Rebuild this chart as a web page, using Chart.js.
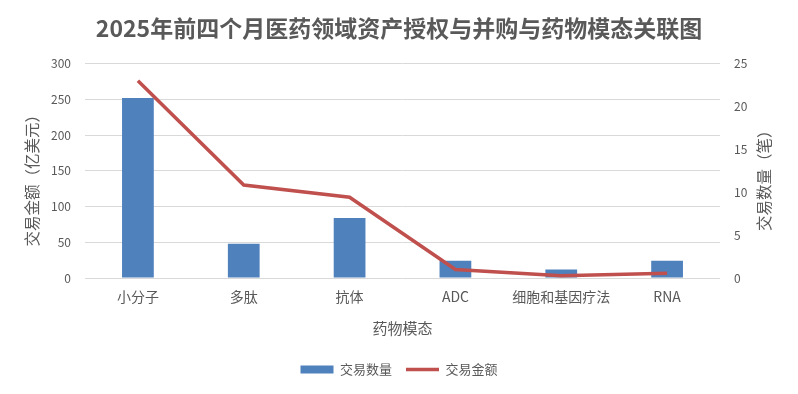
<!DOCTYPE html>
<html>
<head>
<meta charset="utf-8">
<script src="https://cdn.jsdelivr.net/npm/chart.js"></script>
<style>
  html, body { margin: 0; padding: 0; background: #fff; }
  #wrap { width: 798px; height: 394px; }
</style>
</head>
<body>
<div id="wrap"><canvas id="modalChart" width="798" height="394"></canvas></div>
<script>
// categories and series
const modalities = ['小分子', '多肽', '抗体', 'ADC', '细胞和基因疗法', 'RNA'];
const dealCounts = [21, 4, 7, 2, 1, 2];                   // 交易数量（笔）
const dealAmounts = [276, 130, 113, 12, 3, 6.5];          // 交易金额（亿美元）
const amountTicks = [0, 50, 100, 150, 200, 250, 300];
const countTicks = [0, 5, 10, 15, 20, 25];

const FONT = "'Noto Sans CJK SC', 'Noto Sans', sans-serif";
const GREY = '#595959';

// vertical axis titles, both reading bottom to top like the original
const axisTitles = {
    id: 'axisTitles',
    afterDraw(chart) {
        const ctx = chart.ctx;
        const area = chart.chartArea;
        const midY = (area.top + area.bottom) / 2 + 6;
        ctx.save();
        ctx.fillStyle = GREY;
        ctx.font = '15.5px ' + FONT;
        ctx.textAlign = 'center';
        ctx.textBaseline = 'middle';
        [['交易金额（亿美元）', 32], ['交易数量（笔）', 764]].forEach(([txt, x]) => {
            ctx.save();
            ctx.translate(x, midY);
            ctx.rotate(-Math.PI / 2);
            ctx.fillText(txt, 0, 0);
            ctx.restore();
        });
        ctx.restore();
    }
};

new Chart(document.getElementById('modalChart'), {
    type: 'bar',
    data: {
        labels: modalities,
        datasets: [{
            type: 'bar',
            label: '交易数量',
            data: dealCounts,
            yAxisID: 'y1',
            backgroundColor: '#4F81BD',
            barPercentage: 0.3,
            categoryPercentage: 1,
            pointStyle: 'rect',
            order: 2
        }, {
            type: 'line',
            label: '交易金额',
            data: dealAmounts,
            yAxisID: 'y',
            borderColor: '#C0504D',
            backgroundColor: '#C0504D',
            borderWidth: 3.5,
            pointRadius: 0,
            pointStyle: 'line',
            tension: 0,
            order: 1
        }]
    },
    options: {
        responsive: false,
        animation: false,
        layout: { padding: { left: 0, right: 0, top: 0, bottom: 8 } },
        scales: {
            x: {
                grid: { display: false },
                border: { display: false },
                ticks: { color: GREY, font: { family: FONT, size: 14 }, padding: 2 },
                title: {
                    display: true,
                    text: '药物模态',
                    color: GREY,
                    font: { family: FONT, size: 15 },
                    padding: { top: 4, bottom: 12 }
                },
                afterFit: (scale) => { scale.height = 71; }
            },
            y: {
                position: 'left',
                min: 0,
                max: 300,
                afterBuildTicks: (scale) => { scale.ticks = amountTicks.map(v => ({ value: v })); },
                grid: { color: '#D9D9D9', lineWidth: 1, drawTicks: false },
                border: { display: false },
                ticks: { color: GREY, font: { family: FONT, size: 12 }, padding: 14 },
                afterFit: (scale) => { scale.width = 85; }
            },
            y1: {
                position: 'right',
                min: 0,
                max: 25,
                afterBuildTicks: (scale) => { scale.ticks = countTicks.map(v => ({ value: v })); },
                grid: { drawOnChartArea: false, drawTicks: false },
                border: { display: false },
                ticks: { color: GREY, font: { family: FONT, size: 12 }, padding: 14 },
                afterFit: (scale) => { scale.width = 78; }
            }
        },
        plugins: {
            title: {
                display: true,
                text: '2025年前四个月医药领域资产授权与并购与药物模态关联图',
                color: GREY,
                font: { family: FONT, size: 23, weight: 'bold' },
                padding: { top: 14, bottom: 22 }
            },
            legend: {
                position: 'bottom',
                labels: {
                    color: GREY,
                    font: { family: FONT, size: 13 },
                    usePointStyle: true,
                    pointStyleWidth: 33,
                    boxHeight: 8,
                    padding: 14,
                    sort: (a, b) => a.datasetIndex - b.datasetIndex
                }
            },
            tooltip: { enabled: false }
        }
    },
    plugins: [axisTitles]
});
</script>
</body>
</html>
